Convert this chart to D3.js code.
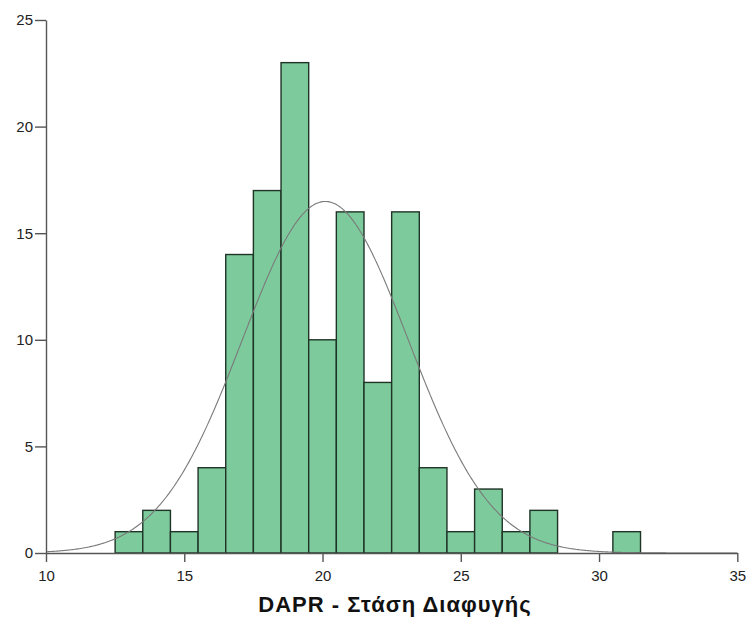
<!DOCTYPE html>
<html><head><meta charset="utf-8">
<script src="https://cdn.jsdelivr.net/npm/d3@7"></script>
<style>body{margin:0;background:#fff;} svg{display:block;font-family:Arial,"Liberation Sans",sans-serif;}</style>
</head><body>
<div id="chart"></div>
<script>
const binStarts = [12.5,13.5,14.5,15.5,16.5,17.5,18.5,19.5,20.5,21.5,22.5,23.5,24.5,25.5,26.5,27.5,28.5,29.5,30.5];
const counts    = [1,2,1,4,14,17,23,10,16,8,16,4,1,3,1,2,0,0,1];
const binWidth = 1;
const fitMean = 20.1, fitSD = 3.0;
const xTicks = [10,15,20,25,30,35];
const yTicks = [0,5,10,15,20,25];
const xLabel = "DAPR - Στάση Διαφυγής";

const W = 749, H = 630;
const svg = d3.select("#chart").append("svg").attr("width", W).attr("height", H);
const x = d3.scaleLinear().domain([10,35]).range([46,737.3]);
const y = d3.scaleLinear().domain([0,25]).range([553,20]);

const N = d3.sum(counts);
// bars
svg.append("g").selectAll("rect").data(binStarts.map((s,i)=>({s,c:counts[i]})).filter(d=>d.c>0))
  .join("rect")
  .attr("x", d=>x(d.s)).attr("width", d=>x(d.s+binWidth)-x(d.s))
  .attr("y", d=>y(d.c)).attr("height", d=>y(0)-y(d.c))
  .attr("fill","#7dcb9c").attr("stroke","#1f3327").attr("stroke-width",1.4);

// normal curve
const pts = d3.range(10, 35.001, 0.05).map(v => [v, N*binWidth/(fitSD*Math.sqrt(2*Math.PI))*Math.exp(-0.5*Math.pow((v-fitMean)/fitSD,2))]);
svg.append("path").datum(pts)
  .attr("d", d3.line().x(d=>x(d[0])).y(d=>y(d[1])).curve(d3.curveBasis))
  .attr("fill","none").attr("stroke","#7a7a7a").attr("stroke-width",1.1);

// axes
const xa = svg.append("g").attr("transform",`translate(0,${y(0)})`)
  .call(d3.axisBottom(x).tickValues(xTicks).tickSize(9).tickPadding(8).tickSizeOuter(0));
const ya = svg.append("g").attr("transform",`translate(${x(10)},0)`)
  .call(d3.axisLeft(y).tickValues(yTicks).tickSize(11).tickPadding(2).tickSizeOuter(0));
[xa,ya].forEach(a=>{
  a.select(".domain").attr("stroke","#555").attr("stroke-width",1.4);
  a.selectAll(".tick line").attr("stroke","#555").attr("stroke-width",1.4);
  a.selectAll(".tick text").attr("fill","#222").style("font-size","15px").style("font-family","Arial,'Liberation Sans',sans-serif");
});
svg.append("text").attr("x",395).attr("y",612).attr("text-anchor","middle")
  .style("font-size","22px").style("font-weight","bold").style("letter-spacing","1px").attr("fill","#111").text(xLabel);
</script>
</body></html>
